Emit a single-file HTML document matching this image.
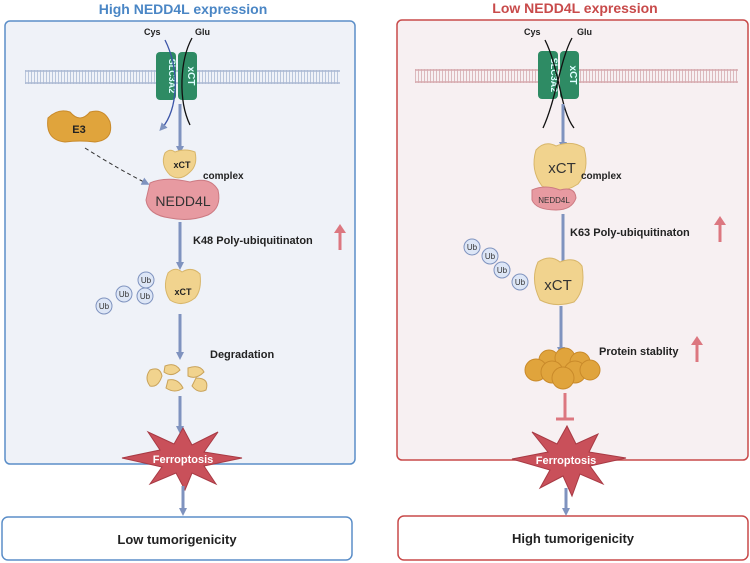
<!DOCTYPE html>
<html><head><meta charset="utf-8"><style>
body{margin:0;background:#fff}
svg{display:block;font-family:"Liberation Sans",sans-serif}
</style></head><body>
<svg width="750" height="563" viewBox="0 0 750 563">
<defs>
<marker id="ab" markerWidth="8" markerHeight="8" refX="4" refY="4" orient="auto" markerUnits="userSpaceOnUse" viewBox="0 0 8 8"><path d="M0,0L8,4L0,8z" fill="#7f93bf"/></marker>
<pattern id="mem" width="3" height="14" patternUnits="userSpaceOnUse"><rect width="3" height="14" fill="none"/><line x1="1.5" y1="0" x2="1.5" y2="14" stroke="#b9c6dc" stroke-width="1"/></pattern>
<pattern id="memr" width="3" height="14" patternUnits="userSpaceOnUse"><line x1="1.5" y1="0" x2="1.5" y2="14" stroke="#dcb9bd" stroke-width="1"/></pattern>
</defs>
<!-- titles -->
<text x="183" y="14" text-anchor="middle" font-size="14" font-weight="bold" fill="#4a86c5">High NEDD4L expression</text>
<text x="575" y="13" text-anchor="middle" font-size="14" font-weight="bold" fill="#c84a4a">Low NEDD4L expression</text>
<!-- panels -->
<rect x="5" y="21" width="350" height="443" rx="5" fill="#eff2f8" stroke="#5b8ec8" stroke-width="1.5"/>
<rect x="397" y="20" width="351" height="440" rx="5" fill="#f7f0f2" stroke="#c84a4a" stroke-width="1.5"/>
<rect x="2" y="517" width="350" height="43" rx="6" fill="#fff" stroke="#5b8ec8" stroke-width="1.5"/>
<rect x="398" y="516" width="350" height="44" rx="6" fill="#fff" stroke="#c84a4a" stroke-width="1.5"/>
<text x="177" y="544" text-anchor="middle" font-size="13" font-weight="bold" fill="#222">Low tumorigenicity</text>
<text x="573" y="543" text-anchor="middle" font-size="13" font-weight="bold" fill="#222">High tumorigenicity</text>
<!-- membranes -->
<rect x="25" y="70" width="315" height="14" fill="url(#mem)"/>
<line x1="25" y1="71" x2="340" y2="71" stroke="#aab8d2" stroke-width="1.5"/><line x1="25" y1="83" x2="340" y2="83" stroke="#aab8d2" stroke-width="1.5"/>
<rect x="415" y="69" width="323" height="14" fill="url(#memr)"/>
<line x1="415" y1="70" x2="738" y2="70" stroke="#d6a9ae" stroke-width="1.5"/><line x1="415" y1="82" x2="738" y2="82" stroke="#d6a9ae" stroke-width="1.5"/>
<!-- transporters -->
<g id="tr">
<rect x="156" y="52" width="20" height="48" rx="4" fill="#2e8b64"/>
<rect x="178" y="52" width="19" height="48" rx="4" fill="#2e8b64"/>
<text transform="translate(169,76) rotate(90)" text-anchor="middle" font-size="9" font-weight="bold" fill="#dff">SLC3A2</text>
<text transform="translate(188,76) rotate(90)" text-anchor="middle" font-size="10" font-weight="bold" fill="#dff">xCT</text>
</g>
<text x="144" y="35" font-size="9" font-weight="bold" fill="#222">Cys</text>
<text x="195" y="35" font-size="9" font-weight="bold" fill="#222">Glu</text>
<path d="M165,40 C180,70 178,110 162,128" fill="none" stroke="#3c55a8" stroke-width="1.3" marker-end="url(#ab)"/>
<path d="M190,125 C178,100 180,60 192,38" fill="none" stroke="#111" stroke-width="1.3"/>
<g transform="translate(382,-1)">
<rect x="156" y="52" width="20" height="48" rx="4" fill="#2e8b64"/>
<rect x="178" y="52" width="19" height="48" rx="4" fill="#2e8b64"/>
<text transform="translate(169,76) rotate(90)" text-anchor="middle" font-size="9" font-weight="bold" fill="#dff">SLC3A2</text>
<text transform="translate(188,76) rotate(90)" text-anchor="middle" font-size="10" font-weight="bold" fill="#dff">xCT</text>
</g>
<text x="524" y="35" font-size="9" font-weight="bold" fill="#222">Cys</text>
<text x="577" y="35" font-size="9" font-weight="bold" fill="#222">Glu</text>
<path d="M545,40 C560,70 560,110 574,128" fill="none" stroke="#111" stroke-width="1.3"/>
<path d="M543,128 C556,100 560,60 572,38" fill="none" stroke="#111" stroke-width="1.3"/>
<!-- LEFT flow -->
<line x1="180" y1="104" x2="180" y2="150" stroke="#7f93bf" stroke-width="3" marker-end="url(#ab)"/>
<path d="M48,118 Q58,108 70,112 Q80,124 90,112 Q104,108 110,122 Q114,140 95,142 Q80,140 65,142 Q45,140 48,118z" fill="#e0a43c" stroke="#c98a2a"/>
<text x="79" y="133" text-anchor="middle" font-size="11" font-weight="bold" fill="#222">E3</text>
<path d="M85,148 Q120,170 146,183" fill="none" stroke="#333" stroke-dasharray="4,3" marker-end="url(#ab)"/>
<path d="M165,153 Q170,148 175,152 Q185,148 195,152 Q198,165 190,172 Q180,182 170,175 Q160,165 165,153z" fill="#f1d38e" stroke="#d8b66a"/>
<text x="182" y="168" text-anchor="middle" font-size="9" font-weight="bold" fill="#222">xCT</text>
<text x="203" y="179" font-size="10" font-weight="bold" fill="#222">complex</text>
<path d="M150,183 Q165,176 190,182 Q210,176 218,190 Q222,208 208,215 Q190,222 170,218 Q148,215 146,200z" fill="#e79aa1" stroke="#cc7a82"/>
<text x="183" y="206" text-anchor="middle" font-size="14" fill="#333">NEDD4L</text>
<line x1="180" y1="222" x2="180" y2="266" stroke="#7f93bf" stroke-width="3" marker-end="url(#ab)"/>
<text x="193" y="244" font-size="11" font-weight="bold" fill="#222">K48  Poly-ubiquitinaton</text>
<line x1="340" y1="250" x2="340" y2="230" stroke="#dc7780" stroke-width="3"/><path d="M334,233L340,224L346,233z" fill="#dc7780"/>
<path d="M168,273 Q175,266 182,272 Q192,266 200,274 Q202,290 195,298 Q182,308 170,300 Q162,288 168,273z" fill="#f1d38e" stroke="#d8b66a"/>
<text x="183" y="295" text-anchor="middle" font-size="9" font-weight="bold" fill="#222">xCT</text>
<g font-size="8" fill="#333" text-anchor="middle">
<circle cx="146" cy="280" r="8" fill="#dde6f6" stroke="#7f93bf"/><text x="146" y="283">Ub</text>
<circle cx="145" cy="296" r="8" fill="#dde6f6" stroke="#7f93bf"/><text x="145" y="299">Ub</text>
<circle cx="124" cy="294" r="8" fill="#dde6f6" stroke="#7f93bf"/><text x="124" y="297">Ub</text>
<circle cx="104" cy="306" r="8" fill="#dde6f6" stroke="#7f93bf"/><text x="104" y="309">Ub</text>
</g>
<line x1="180" y1="314" x2="180" y2="356" stroke="#7f93bf" stroke-width="3" marker-end="url(#ab)"/>
<text x="210" y="358" font-size="11" font-weight="bold" fill="#222">Degradation</text>
<g fill="#f1d38e" stroke="#c9a35a">
<path d="M150,370 Q160,366 162,376 Q158,388 150,386 Q144,378 150,370z"/>
<path d="M165,366 Q175,362 180,370 Q172,378 164,372z"/>
<path d="M168,380 Q178,378 183,388 Q175,394 166,388z"/>
<path d="M188,368 Q200,364 204,372 Q196,380 188,376z"/>
<path d="M196,378 Q210,378 206,390 Q198,394 192,386z"/>
</g>
<line x1="180" y1="396" x2="180" y2="430" stroke="#7f93bf" stroke-width="3" marker-end="url(#ab)"/>
<path d="M183,428 L192,445 L218,432 L204,452 L242,458 L204,466 L216,484 L192,473 L185,490 L176,473 L150,484 L162,467 L122,458 L160,450 L148,432 L174,444z" fill="#c9505a" stroke="#a83a44"/>
<text x="183" y="463" text-anchor="middle" font-size="11" font-weight="bold" fill="#fff">Ferroptosis</text>
<line x1="183" y1="486" x2="183" y2="512" stroke="#7f93bf" stroke-width="3" marker-end="url(#ab)"/>
<!-- RIGHT flow -->
<line x1="563" y1="104" x2="563" y2="146" stroke="#7f93bf" stroke-width="3" marker-end="url(#ab)"/>
<path d="M536,150 Q545,140 556,146 Q572,140 584,148 Q590,170 578,184 Q560,196 542,186 Q530,170 536,150z" fill="#f1d38e" stroke="#d8b66a"/>
<text x="562" y="173" text-anchor="middle" font-size="15" fill="#333">xCT</text>
<text x="581" y="179" font-size="10" font-weight="bold" fill="#222">complex</text>
<path d="M532,190 Q545,184 560,190 Q575,186 576,198 Q572,210 556,210 Q536,210 532,200z" fill="#e79aa1" stroke="#cc7a82"/>
<text x="554" y="203" text-anchor="middle" font-size="8" fill="#333">NEDD4L</text>
<line x1="563" y1="214" x2="563" y2="270" stroke="#7f93bf" stroke-width="3" marker-end="url(#ab)"/>
<text x="570" y="236" font-size="11" font-weight="bold" fill="#222">K63  Poly-ubiquitinaton</text>
<line x1="720" y1="242" x2="720" y2="222" stroke="#dc7780" stroke-width="3"/><path d="M714,225L720,216L726,225z" fill="#dc7780"/>
<path d="M538,262 Q550,254 560,262 Q575,256 582,266 Q586,290 574,302 Q555,308 540,300 Q530,280 538,262z" fill="#f1d38e" stroke="#d8b66a"/>
<text x="558" y="290" text-anchor="middle" font-size="15" fill="#333">xCT</text>
<g font-size="8" fill="#333" text-anchor="middle">
<circle cx="472" cy="247" r="8" fill="#dde6f6" stroke="#7f93bf"/><text x="472" y="250">Ub</text>
<circle cx="490" cy="256" r="8" fill="#dde6f6" stroke="#7f93bf"/><text x="490" y="259">Ub</text>
<circle cx="502" cy="270" r="8" fill="#dde6f6" stroke="#7f93bf"/><text x="502" y="273">Ub</text>
<circle cx="520" cy="282" r="8" fill="#dde6f6" stroke="#7f93bf"/><text x="520" y="285">Ub</text>
</g>
<line x1="561" y1="306" x2="561" y2="351" stroke="#7f93bf" stroke-width="3" marker-end="url(#ab)"/>
<g fill="#e0a43c" stroke="#c98a2a">
<circle cx="549" cy="360" r="10"/><circle cx="565" cy="358" r="10"/><circle cx="580" cy="362" r="10"/>
<circle cx="536" cy="370" r="11"/><circle cx="552" cy="372" r="11"/><circle cx="575" cy="372" r="11"/><circle cx="590" cy="370" r="10"/>
<circle cx="563" cy="378" r="11"/>
</g>
<text x="599" y="355" font-size="11" font-weight="bold" fill="#222">Protein stablity</text>
<line x1="697" y1="362" x2="697" y2="342" stroke="#dc7780" stroke-width="3"/><path d="M691,345L697,336L703,345z" fill="#dc7780"/>
<line x1="565" y1="393" x2="565" y2="418" stroke="#dc7780" stroke-width="3"/>
<line x1="556" y1="419" x2="574" y2="419" stroke="#dc7780" stroke-width="3"/>
<path d="M567,426 L576,444 L598,434 L589,452 L626,458 L590,466 L603,484 L580,474 L572,496 L563,476 L540,488 L550,470 L512,459 L548,452 L532,432 L557,444z" fill="#c9505a" stroke="#a83a44"/>
<text x="566" y="464" text-anchor="middle" font-size="11" font-weight="bold" fill="#fff">Ferroptosis</text>
<line x1="566" y1="488" x2="566" y2="512" stroke="#7f93bf" stroke-width="3" marker-end="url(#ab)"/>
</svg>
</body></html>
